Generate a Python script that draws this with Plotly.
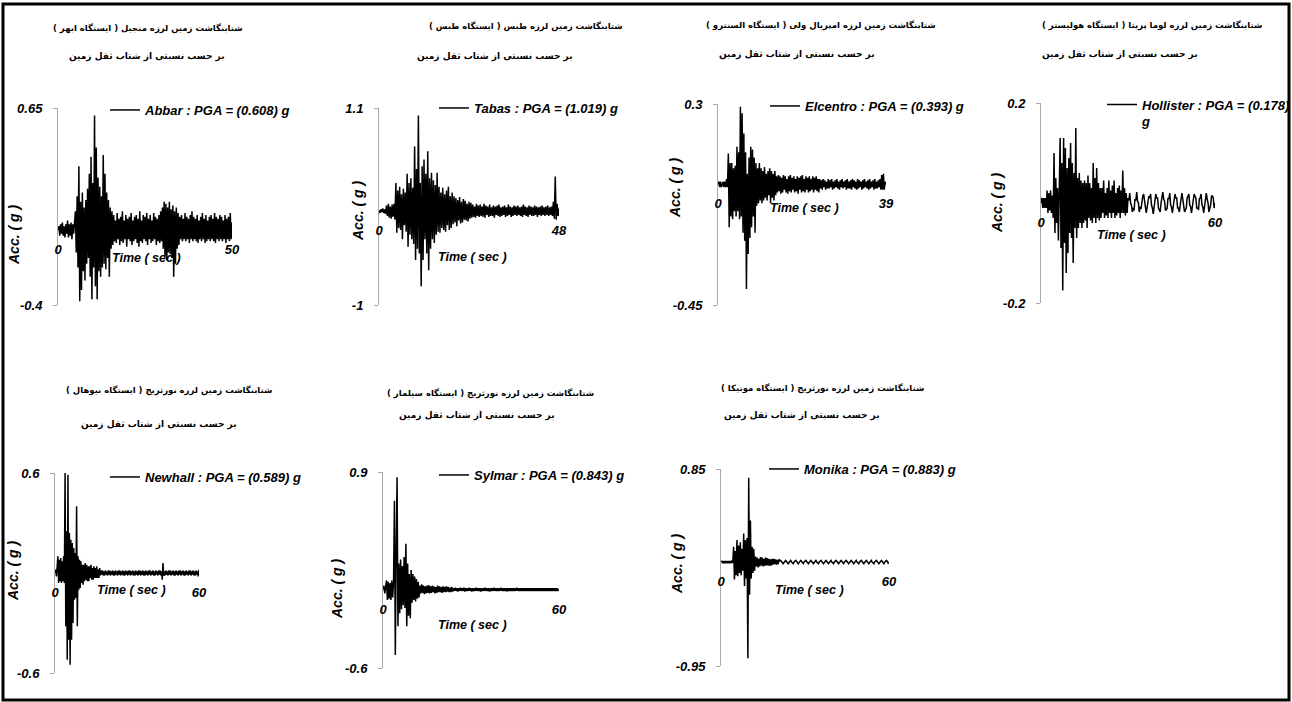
import plotly.graph_objects as go

W, H = 1292, 702

# ---------------- data (acceleration in g, uniform sampling) ----------------
abbar_dt = 0.25
abbar_acc = [
    0.00, 0.02, -0.03, 0.03, -0.02, 0.04, -0.03, 0.02, -0.04, 0.03, -0.02, 0.05, -0.04, 0.03, -0.03, 0.04, -0.05, 0.03, -0.02, 0.04,
    0.10, -0.12, 0.18, -0.20, 0.34, -0.38, 0.15, -0.32, 0.20, -0.22, 0.12, -0.27, 0.16, -0.18, 0.22, -0.15,
    0.30, -0.25, 0.39, -0.37, 0.25, -0.20, 0.61, -0.30, 0.44, -0.37, 0.28, -0.22, 0.23, -0.25, 0.18, -0.20,
    0.40, -0.18, 0.30, -0.21, 0.20, -0.15, 0.16, -0.25, 0.12, -0.10, 0.10, -0.08,
    0.08, -0.06, 0.05, -0.07, 0.09, -0.05, 0.06, -0.08, 0.07, -0.06, 0.10, -0.07, 0.05, -0.05, 0.08, -0.09,
    0.06, -0.05, 0.07, -0.06, 0.09, -0.08, 0.05, -0.06, 0.07, -0.05, 0.08, -0.07, 0.06, -0.09, 0.10, -0.06,
    0.05, -0.07, 0.08, -0.05, 0.07, -0.06, 0.09, -0.08, 0.06, -0.05, 0.08, -0.07, 0.05, -0.06, 0.09, -0.05,
    0.07, -0.08, 0.06, -0.06, 0.08, -0.07, 0.10, -0.06,
    0.12, -0.10, 0.15, -0.14, 0.14, -0.16, 0.12, -0.12, 0.15, -0.13, 0.11, -0.15, 0.13, -0.25, 0.10, -0.18, 0.12, -0.10, 0.09, -0.08,
    0.07, -0.05, 0.08, -0.06, 0.06, -0.05, 0.09, -0.06, 0.07, -0.05, 0.06, -0.07, 0.08, -0.05, 0.10, -0.06,
    0.07, -0.05, 0.06, -0.06, 0.08, -0.07, 0.05, -0.05, 0.07, -0.06, 0.09, -0.05, 0.06, -0.07, 0.08, -0.06,
    0.05, -0.05, 0.07, -0.06, 0.08, -0.05, 0.06, -0.06, 0.09, -0.07, 0.07, -0.05, 0.06, -0.06, 0.08, -0.05,
    0.07, -0.06, 0.05, -0.05, 0.08, -0.07, 0.06, -0.05, 0.07, -0.06, 0.09, -0.05, 0.04,
]

tabas_dt = 0.25
tabas_acc = [
    0.01, -0.02, 0.02, -0.01, 0.03, -0.02, 0.02, -0.03,
    0.06, -0.05, 0.08, -0.07, 0.05, -0.08, 0.07, -0.06, 0.08, -0.09,
    0.30, -0.23, 0.22, -0.18,
    0.26, -0.20, 0.18, -0.30, 0.24, -0.15, 0.20, -0.22,
    0.40, -0.38, 0.30, -0.25, 0.35, -0.30,
    0.25, -0.35, 0.69, -0.52, 0.45, -0.40,
    1.02, -0.45, 0.30, -0.80,
    0.48, -0.52, 0.55, -0.30,
    0.40, -0.45, 0.64, -0.63, 0.35, -0.40,
    0.41, -0.30, 0.33, -0.34, 0.28, -0.25, 0.41, -0.22,
    0.26, -0.23, 0.20, -0.18, 0.25, -0.20, 0.18, -0.22, 0.22, -0.15, 0.26, -0.20, 0.16, -0.18, 0.20, -0.14,
    0.16, -0.12, 0.14, -0.16, 0.12, -0.10, 0.15, -0.13, 0.10, -0.12, 0.13, -0.09, 0.11, -0.10, 0.08, -0.11, 0.10, -0.08, 0.09, -0.07,
    0.07, -0.06, 0.05, -0.07, 0.08, -0.05, 0.06, -0.06, 0.07, -0.05, 0.05, -0.06, 0.08, -0.07, 0.06, -0.04,
    0.05, -0.06, 0.07, -0.05, 0.04, -0.05, 0.06, -0.07, 0.05, -0.04, 0.06, -0.05, 0.07, -0.06, 0.04, -0.05,
    0.05, -0.04, 0.06, -0.06, 0.04, -0.05, 0.07, -0.04, 0.05, -0.06, 0.04, -0.05, 0.06, -0.04, 0.05, -0.05,
    0.06, -0.04, 0.04, -0.05, 0.05, -0.06, 0.07, -0.04, 0.05, -0.05, 0.04, -0.06, 0.06, -0.04, 0.05, -0.05,
    0.04, -0.05, 0.06, -0.04, 0.05, -0.06, 0.04, -0.04, 0.05, -0.05, 0.06, -0.04, 0.04, -0.05, 0.05, -0.04,
    0.06, -0.05, 0.04, -0.04, 0.05, -0.05,
    0.10, -0.08, 0.37, -0.09, 0.08, -0.05, 0.03,
]

elcentro_dt = 0.2
elcentro_acc = [
    0.00, 0.01, -0.01, 0.01, -0.01, 0.00, 0.01, -0.01, 0.01, -0.01, 0.02, -0.01,
    0.115, -0.16, 0.08, -0.12,
    0.08, -0.13, 0.06, -0.10, 0.07, -0.12,
    0.14, -0.10, 0.12, -0.13,
    0.29, -0.12, 0.265, -0.18,
    0.19, -0.21, 0.12, -0.39,
    0.04, -0.26, 0.10, -0.20,
    0.14, -0.16, 0.13, -0.12, 0.10, -0.18,
    0.08, -0.08, 0.06, -0.07, 0.08, -0.06,
    0.06, -0.07, 0.05, -0.06, 0.065, -0.05, 0.04, -0.06, 0.05, -0.04, 0.06, -0.07, 0.05, -0.05, 0.04, -0.06, 0.05, -0.04,
    0.03, -0.03, 0.035, -0.025, 0.03, -0.035, 0.025, -0.03, 0.035, -0.02, 0.03, -0.03, 0.02, -0.035, 0.03, -0.025,
    0.035, -0.03, 0.025, -0.02, 0.03, -0.03, 0.02, -0.025, 0.03, -0.035, 0.025, -0.02, 0.03, -0.03, 0.035, -0.025,
    0.02, -0.03, 0.03, -0.02, 0.025, -0.03, 0.03, -0.025, 0.02, -0.02, 0.03, -0.03, 0.025, -0.02, 0.03, -0.025,
    0.02, -0.03,
    0.02, -0.015, 0.015, -0.02, 0.02, -0.01, 0.015, -0.02, 0.01, -0.015, 0.02, -0.015, 0.015, -0.01, 0.02, -0.02,
    0.01, -0.015, 0.015, -0.01, 0.02, -0.015, 0.01, -0.02, 0.015, -0.01, 0.02, -0.015, 0.01, -0.01, 0.015, -0.02,
    0.02, -0.015, 0.01, -0.015, 0.015, -0.02, 0.02, -0.01, 0.015, -0.015, 0.01, -0.02, 0.02, -0.015, 0.015, -0.01,
    0.01, -0.02, 0.015, -0.015, 0.02, -0.01, 0.01, -0.015, 0.015, -0.02, 0.02, -0.015, 0.01, -0.01, 0.015, -0.02,
    0.02, -0.015, 0.01, -0.015, 0.015, -0.01, 0.02, -0.02, 0.035, -0.02, 0.04, -0.02, 0.01, 0.00,
]

hollister_dt = 0.3
hollister_acc = [
    0.00, 0.01, -0.01, 0.01, -0.01, 0.01, -0.01,
    0.025, -0.02, 0.02, -0.015, 0.025, -0.02, 0.015,
    -0.03, 0.10, -0.06, 0.05,
    -0.04, 0.03, -0.075, 0.02,
    0.13, -0.09, 0.08,
    -0.175, 0.13, -0.08,
    0.11, -0.14, 0.07,
    -0.10, 0.09, -0.06,
    0.12, -0.07, 0.08,
    -0.12, 0.06, -0.05,
    0.15, -0.07, 0.05,
    -0.05, 0.06, -0.04, 0.045, -0.05, 0.04, -0.04,
    0.045, -0.035, 0.04, -0.05, 0.055, -0.03, 0.04, -0.035, 0.03, -0.04,
    0.08, -0.03, 0.05, -0.04, 0.07, -0.03, 0.04, -0.035, 0.03, -0.03,
    0.03, -0.02, 0.045, -0.03, 0.02, -0.025, 0.03, -0.03, 0.045, -0.02, 0.025, -0.03, 0.035, -0.02, 0.045,
    -0.03, 0.02, -0.025, 0.03, -0.02, 0.035, -0.03, 0.025, -0.02, 0.065, -0.02, 0.03, -0.025, 0.02, -0.02,
    0.01, 0.005, 0.02, 0.0, -0.005, -0.018, -0.01, -0.015, 0.008, 0.005, 0.022, 0.003, 0.0, -0.018, -0.008, -0.012,
    0.01, 0.014, 0.018, -0.004, -0.008, -0.02, -0.008, -0.004, 0.014, 0.01, 0.018, -0.004, -0.01, -0.022, -0.008, 0.0,
    0.018, 0.01, 0.01, -0.01, -0.014, -0.018, 0.0, 0.008, 0.022, 0.008, 0.004, -0.014, -0.014, -0.01, 0.01, 0.008,
    0.02, -0.004, -0.008, -0.02, -0.008, -0.004, 0.018, 0.01, 0.01, -0.01, -0.01, -0.018, 0.004, 0.008, 0.02, 0.004,
    0.0, -0.018, -0.014, -0.01, 0.01, 0.014, 0.018, -0.004, -0.008, -0.02, -0.008, -0.004, 0.018, 0.014, 0.01, -0.01,
    -0.01, -0.014, 0.008, 0.01, 0.018, -0.004, -0.008, -0.02, -0.004, 0.004, 0.02, 0.008, 0.0, -0.018, -0.01, -0.004,
    0.014, 0.014, 0.01, -0.01, 0.0,
]

newhall_dt = 0.3
newhall_acc = [
    0.00, 0.02, -0.02, 0.02,
    0.10, -0.06, 0.08, -0.05, 0.09, -0.06, 0.07, -0.05, 0.10, -0.06,
    0.60, -0.32, 0.25,
    -0.52, 0.59, -0.40,
    0.24, -0.55, 0.20,
    -0.40, 0.18, -0.30,
    0.15, -0.16, 0.12, -0.15,
    0.40, -0.32, 0.10,
    -0.10, 0.08, -0.09, 0.07,
    -0.06, 0.05, -0.07, 0.05, -0.05, 0.06, -0.04, 0.05, -0.05, 0.04, -0.05, 0.04, -0.03, 0.05, -0.04, 0.03,
    -0.04, 0.04, -0.03, 0.03, -0.03, 0.04, -0.03, 0.02, -0.03, 0.03,
    -0.015, 0.015, -0.01, 0.015, -0.015, 0.01, -0.015, 0.015, -0.01, 0.01, -0.015, 0.015, -0.01, 0.015, -0.015, 0.01,
    -0.01, 0.015, -0.015, 0.01, -0.015, 0.015, -0.01, 0.01, -0.015, 0.015, -0.01, 0.015, -0.015, 0.01, -0.01, 0.015,
    -0.015, 0.01, -0.015, 0.015, -0.01, 0.01, -0.015, 0.015, -0.01, 0.015, -0.015, 0.01, -0.01, 0.015, -0.015, 0.01,
    -0.015, 0.015, -0.01, 0.01, -0.015, 0.015, -0.01, 0.015, -0.015, 0.01, -0.01, 0.015, -0.015, 0.01, -0.015, 0.015,
    -0.01, 0.01, -0.015, 0.015, -0.01, 0.015, -0.015, 0.01, -0.01, 0.015, -0.015, 0.01, -0.015, 0.015, -0.01, 0.01,
    -0.015, 0.015, -0.01, 0.015, -0.015, 0.01, -0.04, 0.06, -0.015, 0.01, -0.015, 0.015, -0.01, 0.01, -0.015, 0.015,
    -0.01, 0.015, -0.015, 0.01, -0.01, 0.015, -0.015, 0.01, -0.015, 0.015, -0.01, 0.01, -0.015, 0.015, -0.01, 0.015,
    -0.015, 0.01, -0.01, 0.015, -0.015, 0.01, -0.015, 0.015, -0.01, 0.01, -0.015, 0.015, -0.01, 0.015, -0.015, 0.01,
    -0.01, 0.015, -0.015, 0.01, -0.015, 0.015, -0.01, 0.01, -0.02, 0.02,
]

sylmar_dt = 0.3
sylmar_acc = [
    0.00, 0.03, -0.03, 0.02,
    0.07, -0.08, 0.06, -0.07, 0.05, -0.08, 0.07, -0.06, 0.06,
    0.68, -0.50, 0.30,
    0.86, -0.28, 0.20,
    -0.18, 0.23, -0.15, 0.18,
    -0.12, 0.25, -0.14,
    0.35, -0.28, 0.20, -0.20,
    0.12, -0.22, 0.15,
    -0.10, 0.12, -0.08, 0.10, -0.09, 0.08, -0.07, 0.06, -0.06,
    0.03, -0.03, 0.04, -0.025, 0.03, -0.035, 0.025, -0.03, 0.03, -0.025, 0.035, -0.03, 0.025, -0.025, 0.03, -0.02,
    0.025, -0.03, 0.02, -0.025, 0.03, -0.02, 0.025, -0.02, 0.02, -0.025, 0.025, -0.02, 0.02, -0.02, 0.025, -0.015,
    0.02, -0.02, 0.015, -0.02, 0.02, -0.015,
    0.01, -0.01, 0.015, -0.01, 0.01, -0.015, 0.01, -0.01, 0.015, -0.01, 0.01, -0.01, 0.015, -0.015, 0.01, -0.01,
    0.01, -0.01, 0.015, -0.01, 0.01, -0.015, 0.01, -0.01, 0.01, -0.01, 0.015, -0.01, 0.01, -0.01, 0.01, -0.015,
    0.01, -0.01, 0.01, -0.01, 0.015, -0.01, 0.01, -0.01, 0.01, -0.015, 0.01, -0.01, 0.01, -0.01, 0.015, -0.01,
    0.01, -0.01, 0.01, -0.01, 0.01, -0.01, 0.015, -0.01, 0.01, -0.01, 0.01, -0.01, 0.01, -0.015, 0.01, -0.01,
    0.01, -0.01, 0.01, -0.01, 0.01, -0.01, 0.01, -0.01, 0.015, -0.01, 0.01, -0.01, 0.01, -0.01, 0.01, -0.01,
    0.01, -0.01, 0.01, -0.01, 0.01, -0.01, 0.01, -0.01, 0.01, -0.01, 0.01, -0.01, 0.01, -0.01, 0.01, -0.01,
    0.01, -0.01, 0.01, -0.01, 0.01, -0.01, 0.01, -0.01, 0.01, -0.01, 0.01, -0.01, 0.01, -0.01, 0.01, -0.01,
    0.01, -0.01, 0.01, -0.01, 0.01, -0.01, 0.01, -0.01, 0.0,
]

monika_dt = 0.3
monika_acc = [
    0.00, 0.01, -0.01, 0.01, -0.01, 0.01, -0.01, 0.01, -0.01, 0.01, -0.01, 0.01, -0.01, 0.015, -0.01,
    0.14, -0.16, 0.10, -0.12,
    0.20, -0.13, 0.15, -0.10, 0.18, -0.12, 0.12, -0.08,
    0.26, -0.22, 0.20, -0.15, 0.22,
    -0.88, 0.77, -0.30,
    0.38, -0.15, 0.14, -0.10, 0.12, -0.08,
    0.05, -0.04, 0.04, -0.05, 0.03, -0.04, 0.045, -0.03, 0.04, -0.04, 0.03, -0.035, 0.04, -0.03, 0.035, -0.03,
    0.03, -0.035, 0.025, -0.03, 0.03, -0.025, 0.03, -0.02, 0.025, -0.025, 0.02, -0.02, 0.025,
    0.01, 0.015, 0.005, -0.01, -0.015, -0.005, 0.01, 0.015, 0.005, -0.01, -0.015, -0.005, 0.01, 0.015, 0.0, -0.01,
    -0.015, 0.0, 0.01, 0.015, 0.005, -0.01, -0.015, -0.005, 0.01, 0.015, 0.005, -0.01, -0.015, 0.0, 0.01, 0.015,
    0.005, -0.01, -0.015, -0.005, 0.01, 0.015, 0.005, -0.01, -0.015, -0.005, 0.01, 0.015, 0.0, -0.01, -0.015, 0.0,
    0.01, 0.015, 0.005, -0.01, -0.015, -0.005, 0.01, 0.015, 0.005, -0.01, -0.015, -0.005, 0.01, 0.015, 0.0, -0.01,
    -0.015, 0.0, 0.01, 0.015, 0.005, -0.01, -0.015, -0.005, 0.01, 0.015, 0.005, -0.01, -0.015, 0.0, 0.01, 0.015,
    0.005, -0.01, -0.015, -0.005, 0.01, 0.015, 0.005, -0.01, -0.015, -0.005, 0.01, 0.015, 0.0, -0.01, -0.015, 0.0,
    0.01, 0.015, 0.005, -0.01, -0.015, -0.005, 0.01, 0.015, 0.005, -0.01, -0.015, -0.005, 0.01, 0.015, 0.0, -0.01,
    -0.015, 0.0, 0.01, 0.015, 0.005, -0.01, -0.015, -0.005, 0.01, 0.015, 0.005, -0.01, -0.015, 0.0, 0.01, 0.015,
    0.005, -0.01, 0.0,
]

stations = ["Abbar", "Tabas", "Elcentro", "Hollister", "Newhall", "Sylmar", "Monika"]
pga_values = ["0.608", "1.019", "0.393", "0.178", "0.589", "0.843", "0.883"]
y_min = [-0.4, -1, -0.45, -0.2, -0.6, -0.6, -0.95]
y_max = [0.65, 1.1, 0.3, 0.2, 0.6, 0.9, 0.85]
y_min_labels = ["-0.4", "-1", "-0.45", "-0.2", "-0.6", "-0.6", "-0.95"]
y_max_labels = ["0.65", "1.1", "0.3", "0.2", "0.6", "0.9", "0.85"]
t_end = [50, 48, 39, 60, 60, 60, 60]
t_end_labels = ["50", "48", "39", "60", "60", "60", "60"]
RLM = "\u200f"
title_line1 = [
    "شتابنگاشت زمین لرزه منجیل ( ایستگاه ابهر )",
    "شتابنگاشت زمین لرزه طبس ( ایستگاه طبس )",
    "شتابنگاشت زمین لرزه امپریال ولی ( ایستگاه السنترو )",
    "شتابنگاشت زمین لرزه لوما پریتا ( ایستگاه هولیستر )",
    "شتابنگاشت زمین لرزه نورثریج ( ایستگاه نیوهال )",
    "شتابنگاشت زمین لرزه نورثریج ( ایستگاه سیلمار )",
    "شتابنگاشت زمین لرزه نورثریج ( ایستگاه مونیکا )",
]
title_line2 = "بر حسب نسبتی از شتاب ثقل زمین"

series = [
    (abbar_acc, abbar_dt), (tabas_acc, tabas_dt), (elcentro_acc, elcentro_dt), (hollister_acc, hollister_dt),
    (newhall_acc, newhall_dt), (sylmar_acc, sylmar_dt), (monika_acc, monika_dt),
]

# ---------------- layout geometry (pixels) ----------------
geom = [
    dict(x0=58, x1=232, yt=108, yb=305, lx=145, ly=110, tx=146, ty=258, ax=14, ay=235, t1=(148, 28), t2=(147, 56)),
    dict(x0=379, x1=559, yt=108, yb=305, lx=474, ly=108, tx=472, ty=257, ax=358, ay=211, t1=(526, 27), t2=(495, 56)),
    dict(x0=718, x1=886, yt=104, yb=305, lx=805, ly=106, tx=804, ty=208, ax=675, ay=188, t1=(821, 26), t2=(797, 55)),
    dict(x0=1041, x1=1215, yt=103, yb=303, lx=1142, ly=113, tx=1131, ty=235, ax=997, ay=203, t1=(1152, 26), t2=(1120, 55)),
    dict(x0=55, x1=199, yt=473, yb=673, lx=145, ly=477, tx=131, ty=590, ax=13, ay=571, t1=(169, 390), t2=(159, 424)),
    dict(x0=383, x1=559, yt=472, yb=668, lx=474, ly=475, tx=472, ty=625, ax=337, ay=589, t1=(490, 393), t2=(477, 415)),
    dict(x0=721, x1=889, yt=469, yb=666, lx=804, ly=469, tx=809, ty=590, ax=677, ay=564, t1=(822, 388), t2=(802, 415)),
]

LAT = "Liberation Sans, Arial, sans-serif"
fig = go.Figure()
annotations = []
layout = dict(
    autosize=True, margin=dict(l=0, r=0, t=0, b=0, pad=0, autoexpand=False),
    paper_bgcolor="white", plot_bgcolor="rgba(0,0,0,0)",
    showlegend=True,
)

def px(x):
    return x / W

def py(y):
    return 1 - y / H

for i in range(7):
    g = geom[i]
    k = i + 1
    sfx = "" if k == 1 else str(k)
    acc, dt = series[i]
    t = [j * dt for j in range(len(acc))]
    name = "<b><i>" + stations[i] + " : PGA = (" + pga_values[i] + ")" + ("<br>g" if stations[i] == "Hollister" else " g") + "</i></b>"
    fig.add_trace(go.Scatter(
        x=t, y=acc, mode="lines", line=dict(color="black", width=1.5),
        name=name, xaxis="x" + sfx, yaxis="y" + sfx, legend="legend" + sfx,
        hoverinfo="skip",
    ))
    yzero = g["yt"] + (y_max[i] / (y_max[i] - y_min[i])) * (g["yb"] - g["yt"])
    layout["xaxis" + sfx] = dict(
        domain=[px(g["x0"]), px(g["x1"])], range=[0, t_end[i]],
        anchor="free", position=py(yzero), automargin=False,
        showgrid=False, zeroline=False, showline=False,
        tickvals=[0, t_end[i]], ticktext=["<b><i>0</i></b>", "<b><i>" + t_end_labels[i] + "</i></b>"],
        ticks="", ticklabelstandoff=10,
        tickfont=dict(family=LAT, size=13, color="black"),
    )
    layout["yaxis" + sfx] = dict(
        domain=[py(g["yb"]), py(g["yt"])], range=[y_min[i], y_max[i]],
        anchor="x" + sfx, automargin=False,
        showgrid=False, zeroline=False, showline=True, linecolor="#a8a8a8", linewidth=1,
        ticks="outside", ticklen=4, tickcolor="#a8a8a8", tickwidth=1,
        tickvals=[y_min[i], y_max[i]],
        ticktext=["<b><i>" + y_min_labels[i] + "</i></b>", "<b><i>" + y_max_labels[i] + "</i></b>"],
        ticklabelstandoff=8,
        tickfont=dict(family=LAT, size=13, color="black"),
    )
    layout["legend" + sfx] = dict(
        x=px(g["lx"] - 40), y=py(g["ly"]), xanchor="left", yanchor="middle",
        bgcolor="rgba(0,0,0,0)", borderwidth=0, valign="top",
        font=dict(family=LAT, size=13, color="black"),
    )
    annotations.append(dict(
        x=px(g["tx"]), y=py(g["ty"]), xref="paper", yref="paper", showarrow=False,
        text="<b><i>Time ( sec )</i></b>", font=dict(family=LAT, size=12.5, color="black"),
        xanchor="center", yanchor="middle",
    ))
    annotations.append(dict(
        x=px(g["ax"]), y=py(g["ay"]), xref="paper", yref="paper", showarrow=False,
        text="<b><i>Acc. ( g )</i></b>", textangle=-90, font=dict(family=LAT, size=14, color="black"),
        xanchor="center", yanchor="middle",
    ))
    annotations.append(dict(
        x=px(g["t1"][0]), y=py(g["t1"][1]), xref="paper", yref="paper", showarrow=False,
        text="<b>" + RLM + title_line1[i] + RLM + "</b>", font=dict(family="DejaVu Sans", size=8.5, color="black"),
        xanchor="center", yanchor="middle",
    ))
    annotations.append(dict(
        x=px(g["t2"][0]), y=py(g["t2"][1]), xref="paper", yref="paper", showarrow=False,
        text="<b>" + RLM + title_line2 + RLM + "</b>", font=dict(family="DejaVu Sans", size=9, color="black"),
        xanchor="center", yanchor="middle",
    ))

layout["annotations"] = annotations
layout["shapes"] = [dict(
    type="rect", xref="paper", yref="paper",
    x0=px(3), x1=px(1289), y0=py(700), y1=py(4),
    line=dict(color="black", width=3), fillcolor="rgba(0,0,0,0)",
)]
fig.update_layout(**layout)

post = (
    "document.documentElement.style.margin='0';document.documentElement.style.padding='0';"
    "document.documentElement.style.overflow='hidden';"
    "document.body.style.margin='0';document.body.style.padding='0';document.body.style.overflow='hidden';"
    "var gd=document.getElementById('{plot_id}');gd.style.width='100vw';gd.style.height='100vh';"
    "Plotly.Plots.resize(gd);"
)
fig.write_html(
    "out.html", config={"displayModeBar": False, "responsive": True},
    default_width="100vw", default_height="100vh", post_script=post,
)
